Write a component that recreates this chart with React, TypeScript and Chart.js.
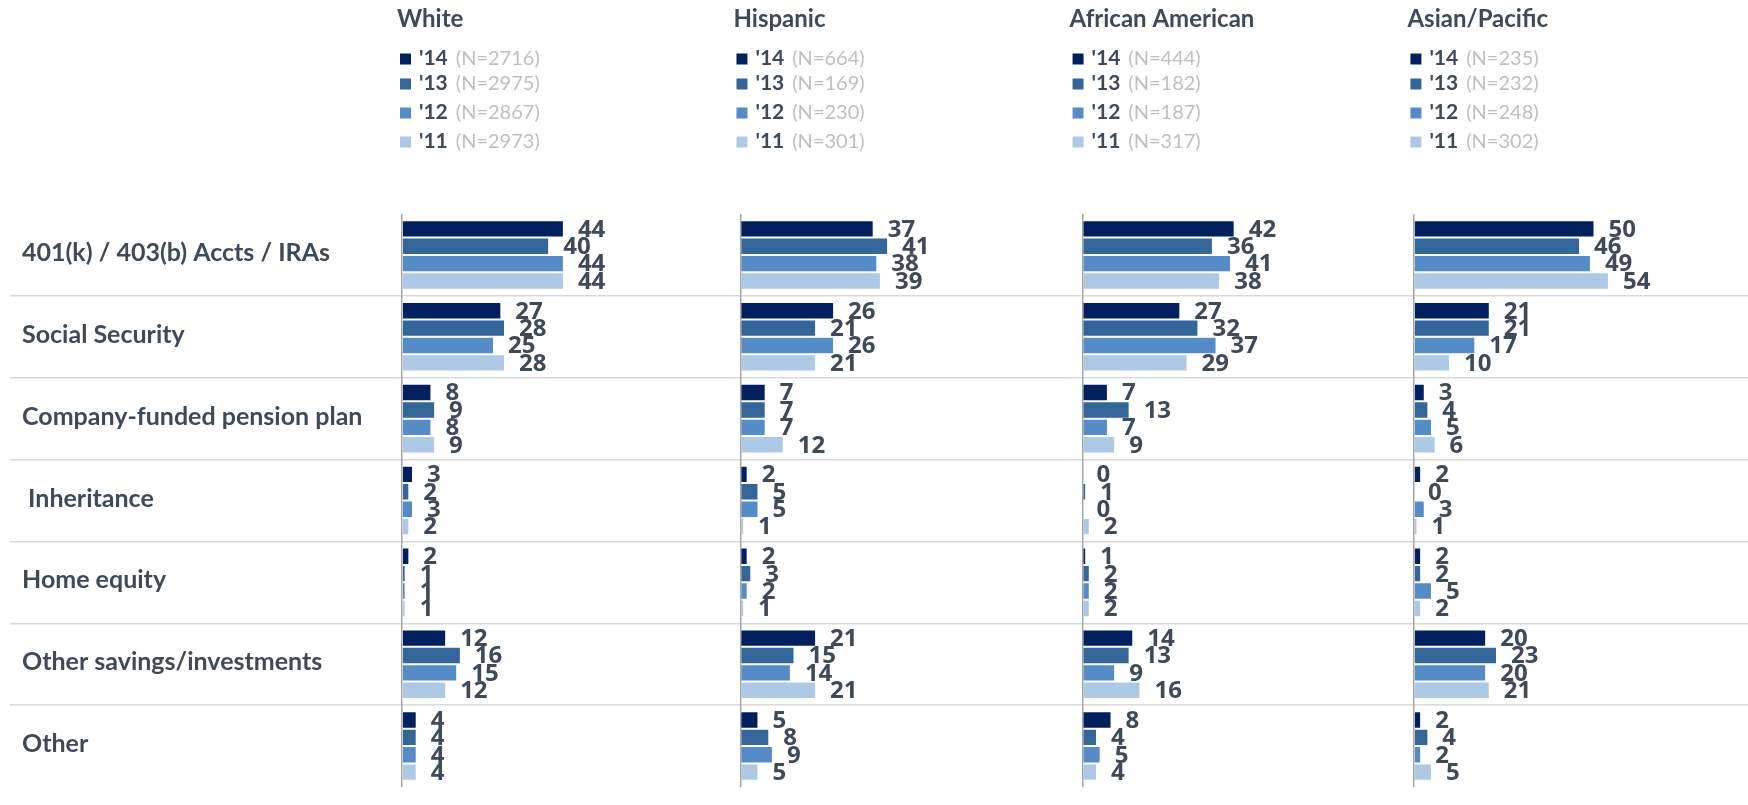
import React, { useEffect, useRef } from "react";
import { Chart, registerables } from "chart.js";

Chart.register(...registerables);

// ---------- data ----------
const categories = [
  "401(k) / 403(b) Accts / IRAs",
  "Social Security",
  "Company-funded pension plan",
  " Inheritance",
  "Home equity",
  "Other savings/investments",
  "Other",
];
const groups = ["White", "Hispanic", "African American", "Asian/Pacific"];
const years = ["'14", "'13", "'12", "'11"];

const white14 = [44, 27, 8, 3, 2, 12, 4];
const white13 = [40, 28, 9, 2, 1, 16, 4];
const white12 = [44, 25, 8, 3, 1, 15, 4];
const white11 = [44, 28, 9, 2, 1, 12, 4];

const hispanic14 = [37, 26, 7, 2, 2, 21, 5];
const hispanic13 = [41, 21, 7, 5, 3, 15, 8];
const hispanic12 = [38, 26, 7, 5, 2, 14, 9];
const hispanic11 = [39, 21, 12, 1, 1, 21, 5];

const african14 = [42, 27, 7, 0, 1, 14, 8];
const african13 = [36, 32, 13, 1, 2, 13, 4];
const african12 = [41, 37, 7, 0, 2, 9, 5];
const african11 = [38, 29, 9, 2, 2, 16, 4];

const asian14 = [50, 21, 3, 2, 2, 20, 2];
const asian13 = [46, 21, 4, 0, 2, 23, 4];
const asian12 = [49, 17, 5, 3, 5, 20, 2];
const asian11 = [54, 10, 6, 1, 2, 21, 5];

const whiteN = [2716, 2975, 2867, 2973];
const hispanicN = [664, 169, 230, 301];
const africanN = [444, 182, 187, 317];
const asianN = [235, 232, 248, 302];

// ---------- styling / layout ----------
const groupSeries = [
  [white14, white13, white12, white11],
  [hispanic14, hispanic13, hispanic12, hispanic11],
  [african14, african13, african12, african11],
  [asian14, asian13, asian12, asian11],
];
const groupNs = [whiteN, hispanicN, africanN, asianN];
const axisIds = ["xWhite", "xHispanic", "xAfrican", "xAsian"];
const panelWeights = [338.4, 342, 331.3, 334];
const panelMax = [92, 95, 91.5, 92.5];
const titleShift = [-5, -7, -13, -6.5];
const legendRows = [59, 84, 113, 142];

const yearColors = ["#03205E", "#35669A", "#558CC8", "#AEC9E5"];
const TEXT = "#3F4A59";
const N_TEXT = "#BFBFBF";
const SEP = "#D9D9D9";
const AXIS = "#A6A6A6";

const valueLabels = {
  id: "valueLabels",
  afterDatasetsDraw(chart: any) {
    const ctx = chart.ctx;
    ctx.save();
    ctx.font = "bold 24px 'Open Sans'";
    ctx.fillStyle = TEXT;
    ctx.textAlign = "left";
    ctx.textBaseline = "middle";
    chart.data.datasets.forEach((ds: any, di: number) => {
      const meta = chart.getDatasetMeta(di);
      meta.data.forEach((el: any, i: number) => {
        ctx.fillText(String(ds.data[i]), el.x + 14, el.y + 1);
      });
    });
    ctx.restore();
  },
};

const header = {
  id: "header",
  afterDraw(chart: any) {
    const ctx = chart.ctx;
    ctx.save();
    axisIds.forEach((id, p) => {
      const scale = chart.scales[id];
      const tx = scale.left + titleShift[p];
      ctx.textAlign = "left";
      ctx.textBaseline = "alphabetic";
      ctx.font = "bold 24px Lato";
      ctx.fillStyle = TEXT;
      ctx.fillText(groups[p], tx, 27);
      legendRows.forEach((ry, r) => {
        const sx = tx + 3;
        ctx.fillStyle = yearColors[r];
        ctx.fillRect(sx, ry - 5.5, 11, 11);
        ctx.font = "bold 21px Lato";
        ctx.fillStyle = TEXT;
        ctx.fillText(years[r], sx + 19, ry + 6);
        const w = ctx.measureText(years[r]).width;
        ctx.font = "20px Lato";
        ctx.fillStyle = N_TEXT;
        ctx.fillText(`(N=${groupNs[p][r]})`, sx + 19 + w + 8, ry + 6);
      });
    });
    ctx.restore();
  },
};

export default function App() {
  const ref = useRef<HTMLCanvasElement | null>(null);

  useEffect(() => {
    if (!ref.current) return;
    Chart.defaults.font.family = "Lato";

    const datasets: any[] = [];
    groupSeries.forEach((series, p) => {
      series.forEach((vals, r) => {
        datasets.push({
          label: `${groups[p]} ${years[r]}`,
          data: vals,
          stack: years[r],
          xAxisID: axisIds[p],
          yAxisID: "y",
          backgroundColor: yearColors[r],
          borderColor: "rgba(255,255,255,0.35)",
          borderWidth: 1,
          categoryPercentage: 0.85,
          barPercentage: 1,
        });
      });
    });

    const xScales: any = {};
    axisIds.forEach((id, p) => {
      xScales[id] = {
        type: "linear",
        position: "bottom",
        stack: "panels",
        stackWeight: panelWeights[p],
        min: 0,
        max: panelMax[p],
        ticks: { display: false },
        border: { display: false },
        grid: {
          drawTicks: false,
          lineWidth: 1.5,
          color: (c: any) => (c.tick && c.tick.value === 0 ? AXIS : "rgba(0,0,0,0)"),
        },
      };
    });

    const sepColor = (c: any) =>
      c.type !== "tick" || c.index === 0 ? "rgba(0,0,0,0)" : SEP;

    const chart = new Chart(ref.current, {
      type: "bar",
      data: { labels: categories, datasets },
      options: {
        indexAxis: "y",
        animation: false,
        responsive: false,
        maintainAspectRatio: false,
        layout: { padding: { top: 214, left: 22, right: 0, bottom: 0 } },
        plugins: {
          legend: { display: false },
          tooltip: { enabled: false },
        },
        scales: {
          y: {
            type: "category",
            position: "left",
            border: { display: false },
            grid: {
              offset: true,
              color: sepColor,
              tickColor: sepColor,
              tickLength: 392,
              lineWidth: 1.5,
            },
            ticks: {
              crossAlign: "far",
              labelOffset: -2,
              color: TEXT,
              font: { family: "Lato", weight: "bold", size: 25 },
            },
            afterFit: (s: any) => {
              s.width = 380;
            },
          },
          ...xScales,
        },
      } as any,
      plugins: [valueLabels, header],
    });
    return () => chart.destroy();
  }, []);

  return (
    <div style={{ position: "fixed", left: 0, top: 0, width: 1748, height: 805, background: "#fff" }}>
      <canvas ref={ref} width={1748} height={805} style={{ display: "block" }} />
    </div>
  );
}
